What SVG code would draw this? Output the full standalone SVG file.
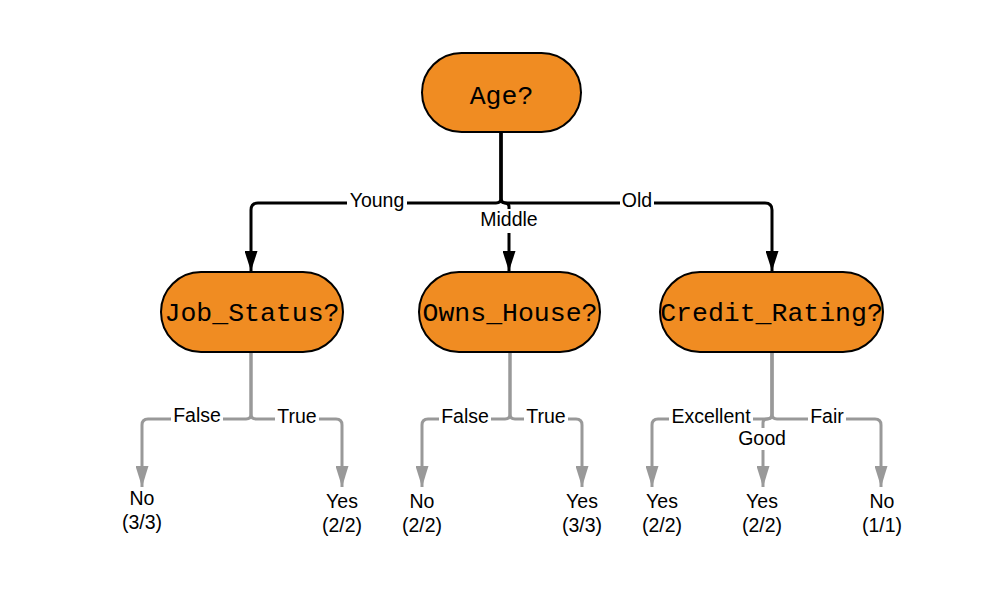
<svg xmlns="http://www.w3.org/2000/svg" width="994" height="597" viewBox="0 0 994 597">
<defs>
<style>
.node{fill:#F08C22;stroke:#000;stroke-width:2}
.nt{font-family:"Liberation Mono","DejaVu Sans Mono",monospace;font-size:26.5px;fill:#000;text-anchor:middle}
.bk{fill:none;stroke:#000;stroke-width:3;marker-end:url(#ab)}
.gy{fill:none;stroke:#999;stroke-width:3;marker-end:url(#ag)}
.lb{font-family:"Liberation Sans",Arial,sans-serif;font-size:19.5px;fill:#000;text-anchor:middle}
.bg{fill:#fff}
</style>
<marker id="ab" markerUnits="userSpaceOnUse" markerWidth="20" markerHeight="13" refX="20" refY="6.5" orient="auto"><path d="M0,0 L20,6.5 L0,13 z" fill="#000"/></marker>
<marker id="ag" markerUnits="userSpaceOnUse" markerWidth="21" markerHeight="13" refX="21" refY="6.5" orient="auto"><path d="M0,0 L21,6.5 L0,13 z" fill="#999"/></marker>
</defs>
<rect width="994" height="597" fill="#fff"/>
<g id="connectors">
<path class="bk" d="M501,132 V198 Q501,203 496,203 H258 Q251,203 251,210 V271"/>
<path class="bk" d="M501,132 V198 Q501,203 506,203 H765 Q772,203 772,210 V271"/>
<path class="bk" d="M501,132 V198 Q501,203 505,203 Q509,203 509,207 V271"/>
<rect class="bg" x="347" y="190" width="60" height="22"/>
<text class="lb" x="377" y="207">Young</text>
<rect class="bg" x="620" y="190" width="34" height="22"/>
<text class="lb" x="637" y="207">Old</text>
<rect class="bg" x="478" y="209" width="62" height="24"/>
<text class="lb" x="509" y="226">Middle</text>

<path class="gy" d="M251,352 V414 Q251,419 246,419 H148 Q142,419 142,425 V487"/>
<path class="gy" d="M251,352 V414 Q251,419 256,419 H336 Q342,419 342,425 V487"/>
<rect class="bg" x="171" y="406" width="52" height="22"/>
<text class="lb" x="197" y="422">False</text>
<rect class="bg" x="275" y="406" width="44" height="22"/>
<text class="lb" x="297" y="423">True</text>

<path class="gy" d="M510,352 V414 Q510,419 505,419 H428 Q422,419 422,425 V487"/>
<path class="gy" d="M510,352 V414 Q510,419 515,419 H576 Q582,419 582,425 V487"/>
<rect class="bg" x="439" y="406" width="52" height="22"/>
<text class="lb" x="465" y="423">False</text>
<rect class="bg" x="524" y="406" width="44" height="22"/>
<text class="lb" x="546" y="423">True</text>

<path class="gy" d="M772,352 V414 Q772,419 767,419 H658 Q652,419 652,425 V487"/>
<path class="gy" d="M772,352 V414 Q772,419 777,419 H875 Q881,419 881,425 V487"/>
<path class="gy" d="M772,352 V414 Q772,419 767,419 Q763,419 763,423 V487"/>
<rect class="bg" x="669" y="406" width="84" height="22"/>
<text class="lb" x="711" y="423">Excellent</text>
<rect class="bg" x="808" y="406" width="38" height="22"/>
<text class="lb" x="827" y="423">Fair</text>
<rect class="bg" x="736" y="428" width="54" height="22"/>
<text class="lb" x="762" y="445">Good</text>
</g>
<g id="n-age"><rect class="node" x="422" y="53" width="159" height="79" rx="39.5"/><text class="nt" x="501.5" y="104">Age?</text></g>
<g id="n-job"><rect class="node" x="161" y="272" width="182" height="80" rx="40"/><text class="nt" x="252" y="321">Job_Status?</text></g>
<g id="n-owns"><rect class="node" x="419" y="272" width="181" height="80" rx="40"/><text class="nt" x="510" y="321">Owns_House?</text></g>
<g id="n-credit"><rect class="node" x="660" y="272" width="223" height="80" rx="40"/><text class="nt" x="771.5" y="321">Credit_Rating?</text></g>
<g id="leaf-1"><text class="lb" x="142" y="505">No</text><text class="lb" x="142" y="529">(3/3)</text></g>
<g id="leaf-2"><text class="lb" x="342" y="508">Yes</text><text class="lb" x="342" y="532">(2/2)</text></g>
<g id="leaf-3"><text class="lb" x="422" y="508">No</text><text class="lb" x="422" y="532">(2/2)</text></g>
<g id="leaf-4"><text class="lb" x="582" y="508">Yes</text><text class="lb" x="582" y="532">(3/3)</text></g>
<g id="leaf-5"><text class="lb" x="662" y="508">Yes</text><text class="lb" x="662" y="532">(2/2)</text></g>
<g id="leaf-6"><text class="lb" x="762" y="508">Yes</text><text class="lb" x="762" y="532">(2/2)</text></g>
<g id="leaf-7"><text class="lb" x="882" y="508">No</text><text class="lb" x="882" y="532">(1/1)</text></g>
</svg>
